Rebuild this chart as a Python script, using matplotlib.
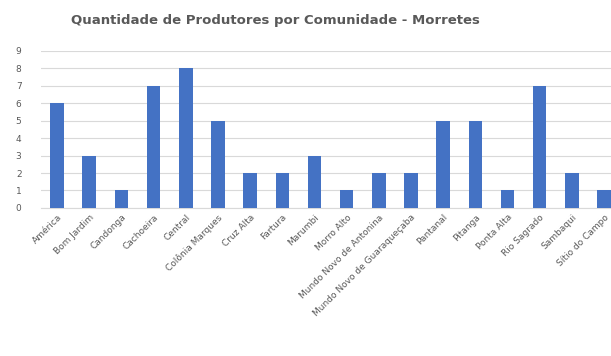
import matplotlib.pyplot as plt

# Communities and number of producers
comunidades = [
    'América', 'Bom Jardim', 'Candonga', 'Cachoeira', 'Central',
    'Colônia Marques', 'Cruz Alta', 'Fartura', 'Marumbi', 'Morro Alto',
    'Mundo Novo de Antonina', 'Mundo Novo de Guaraqueçaba', 'Pantanal',
    'Pitanga', 'Ponta Alta', 'Rio Sagrado', 'Sambaqui', 'Sítio do Campo',
]
produtores = [6, 3, 1, 7, 8, 5, 2, 2, 3, 1, 2, 2, 5, 5, 1, 7, 2, 1]
y_ticks = list(range(0, 10))

fig = plt.figure(figsize=(6.11, 3.56), dpi=100)
ax = fig.add_axes([0.067, 0.416, 0.948, 0.441])

x = range(len(comunidades))
ax.bar(x, produtores, width=0.42, color='#4472C4', zorder=3)

ax.set_ylim(0, 9)
ax.set_xlim(-0.5, len(comunidades) - 0.5)
ax.set_yticks(y_ticks)
ax.set_xticks(list(x))
ax.set_xticklabels(comunidades, rotation=45, ha='right', rotation_mode='anchor')
ax.tick_params(axis='both', labelsize=6.5, labelcolor='#595959', length=0)
ax.tick_params(axis='y', pad=14)

# Light horizontal grid, no frame
ax.grid(True, axis='y', color='#D9D9D9', linewidth=0.8, zorder=0)
for side in ['top', 'right', 'left']:
    ax.spines[side].set_visible(False)
ax.spines['bottom'].set_color('#D9D9D9')

fig.suptitle('Quantidade de Produtores por Comunidade - Morretes',
             x=0.45, y=0.96, fontsize=9.5, fontweight='bold', color='#595959')

fig.savefig('out.png', dpi=100)
